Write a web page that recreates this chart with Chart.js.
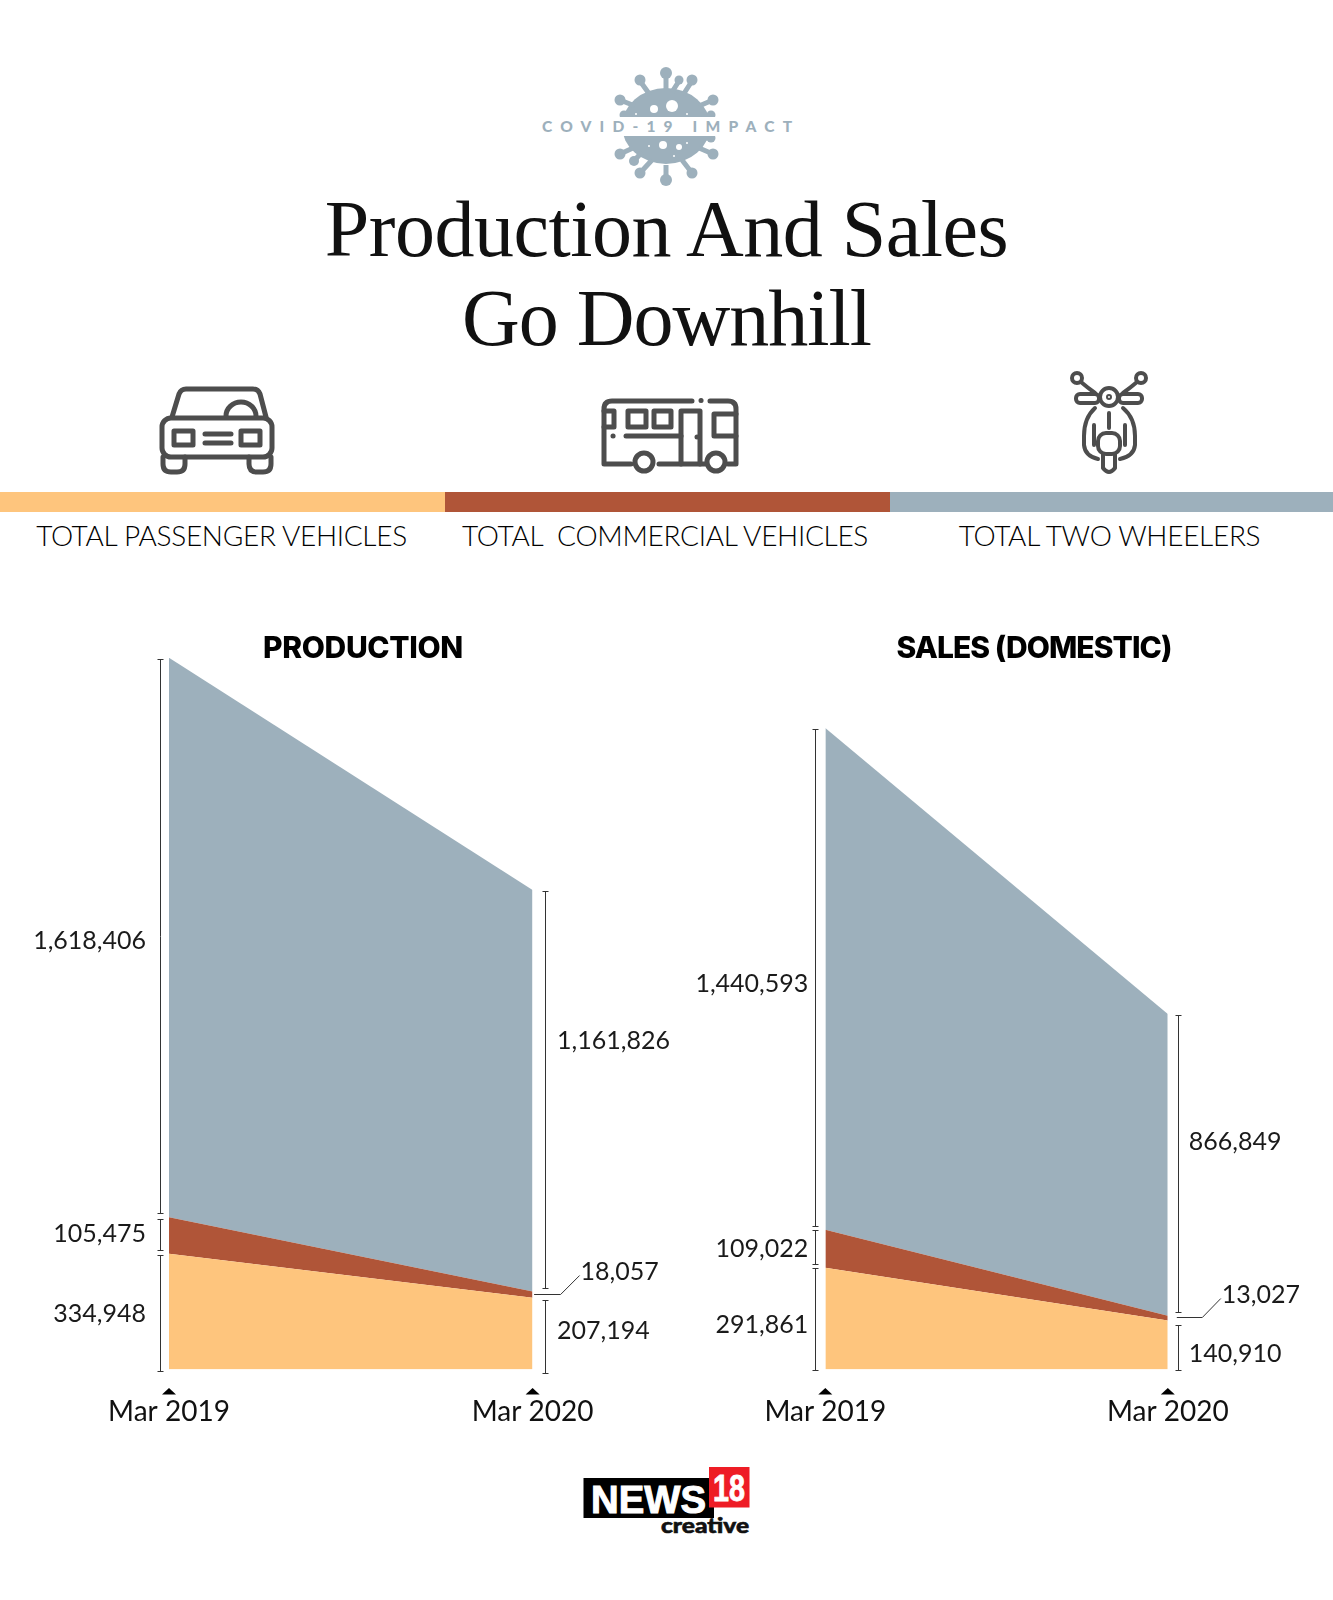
<!DOCTYPE html>
<html>
<head>
<meta charset="utf-8">
<title>Production And Sales Go Downhill</title>
<script src="https://cdn.jsdelivr.net/npm/chart.js@4"></script>
<style>
body { margin: 0; background: #fff; }
#page { position: relative; width: 1333px; height: 1600px; overflow: hidden; font-family: Lato, sans-serif; }
#page > * { position: absolute; }
.headline { left: 0; width: 1333px; margin: 0; text-align: center; font: 400 80px/92px "Liberation Serif", serif; letter-spacing: -1px; color: #111; }
.band { top: 492px; height: 20px; }
.legendText { top: 518px; text-align: center; font-size: 28px; font-weight: 300; line-height: 34px; color: #000; white-space: pre; letter-spacing: -0.3px; }
.chartTitle { margin: 0; top: 628px; text-align: center; font: 800 30px/38px Inter, sans-serif; color: #000; z-index: 2; letter-spacing: -0.35px; }
</style>
</head>
<body>
<div id="page">
  <svg style="left:0;top:0" width="1333" height="560" viewBox="0 0 1333 560">
    <defs>
      <clipPath id="virusClip"><rect x="590" y="60" width="160" height="57"/><rect x="590" y="136" width="160" height="55"/></clipPath>
    </defs>
    <!-- virus badge -->
    <g clip-path="url(#virusClip)" fill="#9db0bc" stroke="#9db0bc">
      <ellipse cx="666" cy="126" rx="44" ry="38" stroke="none"/>
      <g stroke-width="5" fill="none">
        <path d="M666 90V73M672 92L679 81M683 95L692 81M650 95L640 81M635 106L620 100M699 106L713 100M632 118L624 115M702 118L711 115"/>
        <path d="M702 138L711 138M699 148L713 154M633 148L620 154M642 152L634 161M652 160L640 173M682 160L692 173M666 165V180"/>
      </g>
      <g stroke="none">
        <circle cx="666" cy="73" r="6"/><circle cx="679" cy="80" r="4.5"/><circle cx="692" cy="80" r="5.5"/><circle cx="640" cy="80" r="5.5"/>
        <circle cx="620" cy="100" r="5.5"/><circle cx="713" cy="100" r="5.5"/><circle cx="624" cy="115" r="4.5"/><circle cx="711" cy="115" r="4.5"/>
        <circle cx="711" cy="138" r="4.5"/><circle cx="713" cy="154" r="5.5"/><circle cx="620" cy="154" r="5.5"/><circle cx="634" cy="161" r="5"/>
        <circle cx="640" cy="173" r="5.5"/><circle cx="692" cy="173" r="5.5"/><circle cx="666" cy="180" r="6"/>
      </g>
      <g fill="#fff" stroke="none">
        <circle cx="672" cy="106" r="6"/><circle cx="654" cy="109" r="4"/><circle cx="663" cy="145" r="4"/><circle cx="679" cy="147" r="3"/>
        <circle cx="636" cy="114" r="1"/><circle cx="687" cy="114" r="1"/><circle cx="649" cy="146" r="1"/><circle cx="687" cy="143" r="1"/><circle cx="674" cy="156" r="1"/>
      </g>
    </g>
    <text x="542" y="132" textLength="250" lengthAdjust="spacing" font-family="Lato" font-weight="900" font-size="15.5" fill="#9db0bc">COVID-19 IMPACT</text>

    <!-- car -->
    <g fill="none" stroke="#4d4d4d" stroke-width="5" stroke-linejoin="round" stroke-linecap="round">
      <path d="M172 417L179 394Q181 389 186 389H253Q258 389 260 394L266 417"/>
      <path d="M226 416A15 14 0 0 1 256 416"/>
      <rect x="162" y="418" width="110" height="39" rx="9"/>
      <rect x="174" y="431" width="19" height="14"/><rect x="241" y="431" width="19" height="14"/>
      <path d="M205 434H231M205 443H231"/>
      <path d="M163 457V464Q163 472 171 472H177Q185 472 185 464V457M249 457V464Q249 472 257 472H263Q271 472 271 464V457"/>
    </g>

    <!-- bus -->
    <g fill="none" stroke="#4d4d4d" stroke-width="5" stroke-linejoin="round" stroke-linecap="round">
      <path d="M692 401H612Q604 401 604 409V464H631M659 464H705M728 464H736V409Q736 401 728 401H710"/>
      <rect x="628" y="411" width="18" height="16"/><rect x="654" y="411" width="17" height="16"/>
      <path d="M604 411H614V427H604"/>
      <path d="M681 464V411H700V464"/>
      <path d="M736 414H714V436H736"/>
      <path d="M626 436H681"/>
      <circle cx="644" cy="462" r="9"/><circle cx="716" cy="462" r="9"/>
      <path d="M701 400.5h0.1M613 436h0.1M697 437h0.1"/>
    </g>

    <!-- scooter -->
    <g fill="none" stroke="#4d4d4d" stroke-width="4" stroke-linejoin="round" stroke-linecap="round">
      <circle cx="1077" cy="378" r="5"/><circle cx="1141" cy="378" r="5"/>
      <path d="M1081 382Q1088 388 1095 393M1137 382Q1130 388 1123 393"/>
      <circle cx="1109" cy="397" r="9"/><circle cx="1109" cy="397" r="1"/>
      <rect x="1076" y="394" width="23" height="9" rx="4"/><rect x="1119" y="394" width="23" height="9" rx="4"/>
      <path d="M1095 408Q1084 418 1084 436V445Q1085 456 1098 459M1123 408Q1135 418 1135 436V445Q1134 456 1120 459"/>
      <rect x="1098" y="433" width="22" height="21" rx="8"/>
      <path d="M1109 413V428M1094 425V445M1125 425V445"/>
      <path d="M1103 454V468Q1109 476 1115 468V454"/>
    </g>
  </svg>

  <h1 class="headline" style="top:183px;letter-spacing:-0.5px">Production And Sales</h1>
  <h1 class="headline" style="top:272px">Go Downhill</h1>

  <div id="legendRow" style="left:0;top:0"></div>

  <h2 class="chartTitle" style="left:213px;width:300px">PRODUCTION</h2>
  <h2 class="chartTitle" style="left:854px;width:360px;letter-spacing:-0.95px">SALES (DOMESTIC)</h2>

  <div style="left:0;top:620px;width:680px;height:820px"><canvas id="productionChart" width="680" height="820"></canvas></div>
  <div style="left:680px;top:620px;width:653px;height:820px"><canvas id="salesChart" width="653" height="820"></canvas></div>

  <svg style="left:560px;top:1450px" width="200" height="100" viewBox="560 1450 200 100">
    <rect x="583.5" y="1478" width="130.5" height="40" fill="#000"/>
    <text x="591" y="1512.5" textLength="115" lengthAdjust="spacingAndGlyphs" font-family="Liberation Sans" font-weight="700" font-size="38" stroke="#fff" stroke-width="1" fill="#fff">NEWS</text>
    <rect x="709" y="1467" width="40.5" height="40.5" fill="#ee1c25"/>
    <text x="713" y="1501" textLength="32" lengthAdjust="spacingAndGlyphs" font-family="Liberation Sans" font-weight="700" font-size="37" stroke="#fff" stroke-width="0.8" fill="#fff">18</text>
    <text x="661" y="1533" textLength="88" lengthAdjust="spacingAndGlyphs" font-family="Lato" font-weight="900" font-size="21" stroke="#111" stroke-width="0.6" fill="#111">creative</text>
  </svg>
</div>

<script>
var months = ['Mar 2019', 'Mar 2020'];
var seriesNames = ['TOTAL PASSENGER VEHICLES', 'TOTAL  COMMERCIAL VEHICLES', 'TOTAL TWO WHEELERS'];
var seriesColors = ['#fec57d', '#b05538', '#9db0bc'];

var productionPassenger = [334948, 207194];
var productionCommercial = [105475, 18057];
var productionTwoWheelers = [1618406, 1161826];

var salesPassenger = [291861, 140910];
var salesCommercial = [109022, 13027];
var salesTwoWheelers = [1440593, 866849];

// legend strip under the icons
var legendBoxes = [[0, 445, 34, 375], [445, 445, 462, 404], [890, 443, 958, 303]];
var row = document.getElementById('legendRow');
seriesNames.forEach(function (name, i) {
    var band = document.createElement('div');
    band.className = 'band';
    band.style.cssText = 'position:absolute;left:' + legendBoxes[i][0] + 'px;width:' + legendBoxes[i][1] + 'px;background:' + seriesColors[i];
    row.appendChild(band);
    var txt = document.createElement('div');
    txt.className = 'legendText';
    txt.textContent = name;
    txt.style.cssText = 'position:absolute;left:' + legendBoxes[i][2] + 'px;width:' + legendBoxes[i][3] + 'px';
    row.appendChild(txt);
});

// brackets, value labels and the little triangles under the axis
var bracketPlugin = {
    id: 'brackets',
    afterDraw: function (chart, args, opts) {
        var ctx = chart.ctx;
        var y = chart.scales.y;
        var x = chart.scales.x;
        ctx.save();
        ctx.font = '400 25px Lato';
        ctx.textBaseline = 'middle';

        [0, 1].forEach(function (col) {
            var side = col === 0 ? opts.left : opts.right;
            var px = x.getPixelForValue(col);
            var from = 0;
            chart.data.datasets.forEach(function (ds, i) {
                var v = ds.data[col];
                var top = y.getPixelForValue(from + v);
                var bottom = y.getPixelForValue(from);
                var text = v.toLocaleString('en-US');
                ctx.fillStyle = '#1a1a1a';
                ctx.textAlign = col === 0 ? 'right' : 'left';

                if (col === 1 && i === 1) {
                    // commercial sliver is too thin, so it gets a callout
                    var c = opts.callout;
                    var mid = Math.round((top + bottom) / 2) - 0.5;
                    line(ctx, px + c.start, mid, px + c.elbow, mid);
                    line(ctx, px + c.elbow, mid, px + c.end, mid + c.rise);
                    ctx.fillText(text, px + c.end + 1, mid + c.rise - 4);
                } else {
                    // snap to the pixel grid so the hairlines stay crisp
                    var lineX = Math.round(px + side.bracket) + 0.5;
                    var y1 = Math.round(i === 2 ? top + 1 : top + side.gapTop) + 0.5;
                    var y2 = Math.round(i === 0 ? bottom + side.gapBase : bottom - side.gapBottom) + 0.5;
                    line(ctx, lineX, y1, lineX, y2);
                    line(ctx, lineX - 3, y1, lineX + 3, y1);
                    line(ctx, lineX - 3, y2, lineX + 3, y2);
                    ctx.fillText(text, px + side.text, (y1 + y2) / 2 + side.dy[i]);
                }
                from += v;
            });

            ctx.fillStyle = '#000';
            ctx.beginPath();
            ctx.moveTo(px - 7, y.bottom + 25);
            ctx.lineTo(px, y.bottom + 18.5);
            ctx.lineTo(px + 7, y.bottom + 25);
            ctx.fill();
        });
        ctx.restore();
    }
};

function line(ctx, x1, y1, x2, y2) {
    ctx.strokeStyle = '#333';
    ctx.lineWidth = 1;
    ctx.beginPath();
    ctx.moveTo(x1, y1);
    ctx.lineTo(x2, y2);
    ctx.stroke();
}

function drawChart(id, stacks, yMax, padding, brackets) {
    new Chart(document.getElementById(id).getContext('2d'), {
        type: 'line',
        data: {
            labels: months,
            datasets: stacks.map(function (values, i) {
                return {
                    label: seriesNames[i],
                    data: values,
                    fill: i === 0 ? 'origin' : '-1',
                    backgroundColor: seriesColors[i],
                    borderWidth: 0,
                    pointRadius: 0,
                    tension: 0
                };
            })
        },
        options: {
            responsive: false,
            animation: false,
            layout: { padding: padding },
            plugins: {
                legend: { display: false },
                tooltip: { enabled: false },
                brackets: brackets
            },
            scales: {
                y: { display: false, stacked: true, min: 0, max: yMax },
                x: {
                    grid: { display: false },
                    border: { display: false },
                    afterFit: function (scale) { scale.height = 70; },
                    ticks: {
                        autoSkip: false,
                        maxRotation: 0,
                        minRotation: 0,
                        padding: 18,
                        color: '#111',
                        font: { family: 'Lato', size: 28, weight: '400' }
                    }
                }
            }
        },
        plugins: [bracketPlugin]
    });
}

drawChart('productionChart', [productionPassenger, productionCommercial, productionTwoWheelers], 2058829,
    { left: 169, right: 147.4, top: 37.7, bottom: 0.5 },
    {
        left: { bracket: -9, text: -23, gapTop: 1.5, gapBottom: 4, gapBase: 1, dy: [0, -1, 4] },
        right: { bracket: 12.5, text: 24.5, gapTop: 2, gapBottom: 4, gapBase: 3, dy: [-6, 0, -49] },
        callout: { start: 1.5, elbow: 28, end: 47, rise: -19 }
    });

drawChart('salesChart', [salesPassenger, salesCommercial, salesTwoWheelers], 1841476,
    { left: 145.3, right: 165.2, top: 108, bottom: 0.5 },
    {
        left: { bracket: -10, text: -17, gapTop: 0, gapBottom: 4, gapBase: 0, dy: [5, 1, 6] },
        right: { bracket: 10, text: 21, gapTop: 5, gapBottom: 4, gapBase: 0, dy: [6, 0, -22] },
        callout: { start: 9, elbow: 34.5, end: 53, rise: -19 }
    });
</script>
</body>
</html>
